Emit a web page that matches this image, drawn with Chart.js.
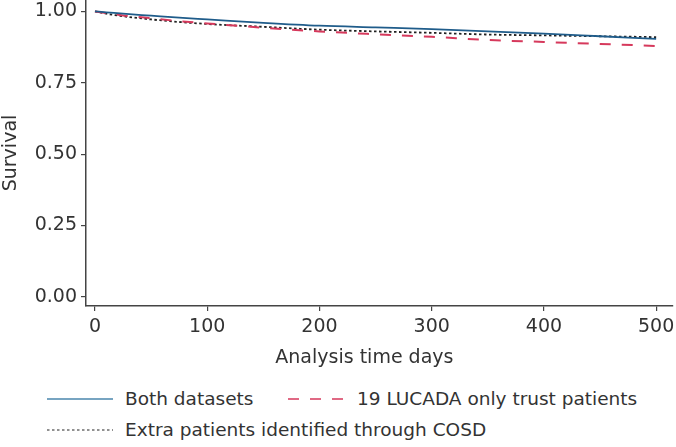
<!DOCTYPE html>
<html>
<head>
<meta charset="utf-8">
<script src="https://cdn.jsdelivr.net/npm/chart.js@4"></script>
<style>
  body { margin: 0; background: #fff; font-family: 'DejaVu Sans', sans-serif; color: #333; }
  #wrap { position: relative; width: 676px; height: 372px; }
  .legend { position: absolute; left: 47px; font-size: 18.5px; color: #333; }
  .item { position: absolute; white-space: nowrap; display: flex; align-items: center; }
  .item svg { margin-right: 12px; }
</style>
</head>
<body>
<div id="wrap"><canvas id="kmChart"></canvas></div>
<div class="legend" id="legend"></div>
<script>
// survival estimates
const days = [0, 10, 25, 50, 75, 100, 150, 200, 250, 300, 350, 400, 450, 500];
const bothDatasets = [1.0, 0.997, 0.992, 0.985, 0.978, 0.972, 0.96, 0.95, 0.944, 0.938, 0.93, 0.922, 0.913, 0.904];
const lucadaOnly = [1.0, 0.994, 0.986, 0.976, 0.966, 0.958, 0.943, 0.93, 0.92, 0.911, 0.9, 0.893, 0.886, 0.879];
const extraCosd = [1.0, 0.992, 0.983, 0.972, 0.963, 0.956, 0.946, 0.936, 0.93, 0.925, 0.919, 0.916, 0.913, 0.91];
const xTicks = [0, 100, 200, 300, 400, 500];
const yTicks = [0, 0.25, 0.5, 0.75, 1];
const labels = ['Both datasets', '19 LUCADA only trust patients', 'Extra patients identified through COSD'];

const fontFamily = "'DejaVu Sans', sans-serif";
const axisColor = '#444';

function toPoints(vals) {
    return days.map((d, i) => ({ x: d, y: vals[i] }));
}

const series = [
    { label: labels[0], data: bothDatasets, color: '#1f5c8a', dash: [], width: 1.8 },
    { label: labels[1], data: lucadaOnly, color: '#d6395c', dash: [11, 11], width: 2 },
    { label: labels[2], data: extraCosd, color: '#222', dash: [2.5, 2.5], width: 1.8 }
];

const ctx = document.getElementById('kmChart').getContext('2d');
const chart = new Chart(ctx, {
    type: 'line',
    data: {
        datasets: series.map(s => ({
            label: s.label,
            data: toPoints(s.data),
            borderColor: s.color,
            borderDash: s.dash,
            borderWidth: s.width,
            pointRadius: 0,
            cubicInterpolationMode: 'monotone',
            fill: false
        }))
    },
    options: {
        responsive: true,
        maintainAspectRatio: false,
        animation: false,
        layout: { padding: { right: 3 } },
        plugins: { legend: { display: false }, tooltip: { enabled: false } },
        scales: {
            x: {
                type: 'linear',
                min: -8,
                max: 515,
                afterBuildTicks: s => { s.ticks = xTicks.map(v => ({ value: v })); },
                afterFit: s => { s.height = 66; s.paddingLeft = 0; s.paddingRight = 0; },
                border: { display: true, color: axisColor, width: 1.5 },
                grid: { drawOnChartArea: false, drawTicks: true, tickLength: 5, color: axisColor, lineWidth: 1.2 },
                ticks: { color: '#333', padding: 5, font: { family: fontFamily, size: 19 } },
                title: { display: true, text: 'Analysis time days     ', color: '#333', padding: { top: 0, bottom: 3 }, font: { family: fontFamily, size: 19 } }
            },
            y: {
                min: -0.032,
                max: 1.04,
                afterBuildTicks: s => { s.ticks = yTicks.map(v => ({ value: v })); },
                afterFit: s => { s.width = 86; s.paddingTop = 0; s.paddingBottom = 0; },
                border: { display: true, color: axisColor, width: 1.5 },
                grid: { drawOnChartArea: false, drawTicks: true, tickLength: 5, color: axisColor, lineWidth: 1.2 },
                ticks: { color: '#333', padding: 4, font: { family: fontFamily, size: 19 }, callback: v => v.toFixed(2) },
                title: { display: true, text: 'Survival', color: '#333', padding: { top: 0, bottom: 0 }, font: { family: fontFamily, size: 19 } }
            }
        }
    }
});

// legend below the plot
const legendPos = [
    { left: 0, top: 388, w: 66 },
    { left: 241, top: 388, w: 57 },
    { left: 0, top: 419, w: 66 }
];
const legend = document.getElementById('legend');
legend.innerHTML = series.map((s, i) => `
    <div class="item" style="left:${legendPos[i].left}px; top:${legendPos[i].top - 372}px">
        <svg width="${legendPos[i].w}" height="6"><line x1="0" y1="3" x2="${legendPos[i].w}" y2="3" stroke="${i === 0 ? '#4a86ad' : s.color}" stroke-width="${i === 2 ? 1.2 : 1.6}" stroke-dasharray="${s.dash.join(',')}"/></svg>
        <span>${s.label}</span>
    </div>`).join('');
</script>
</body>
</html>
